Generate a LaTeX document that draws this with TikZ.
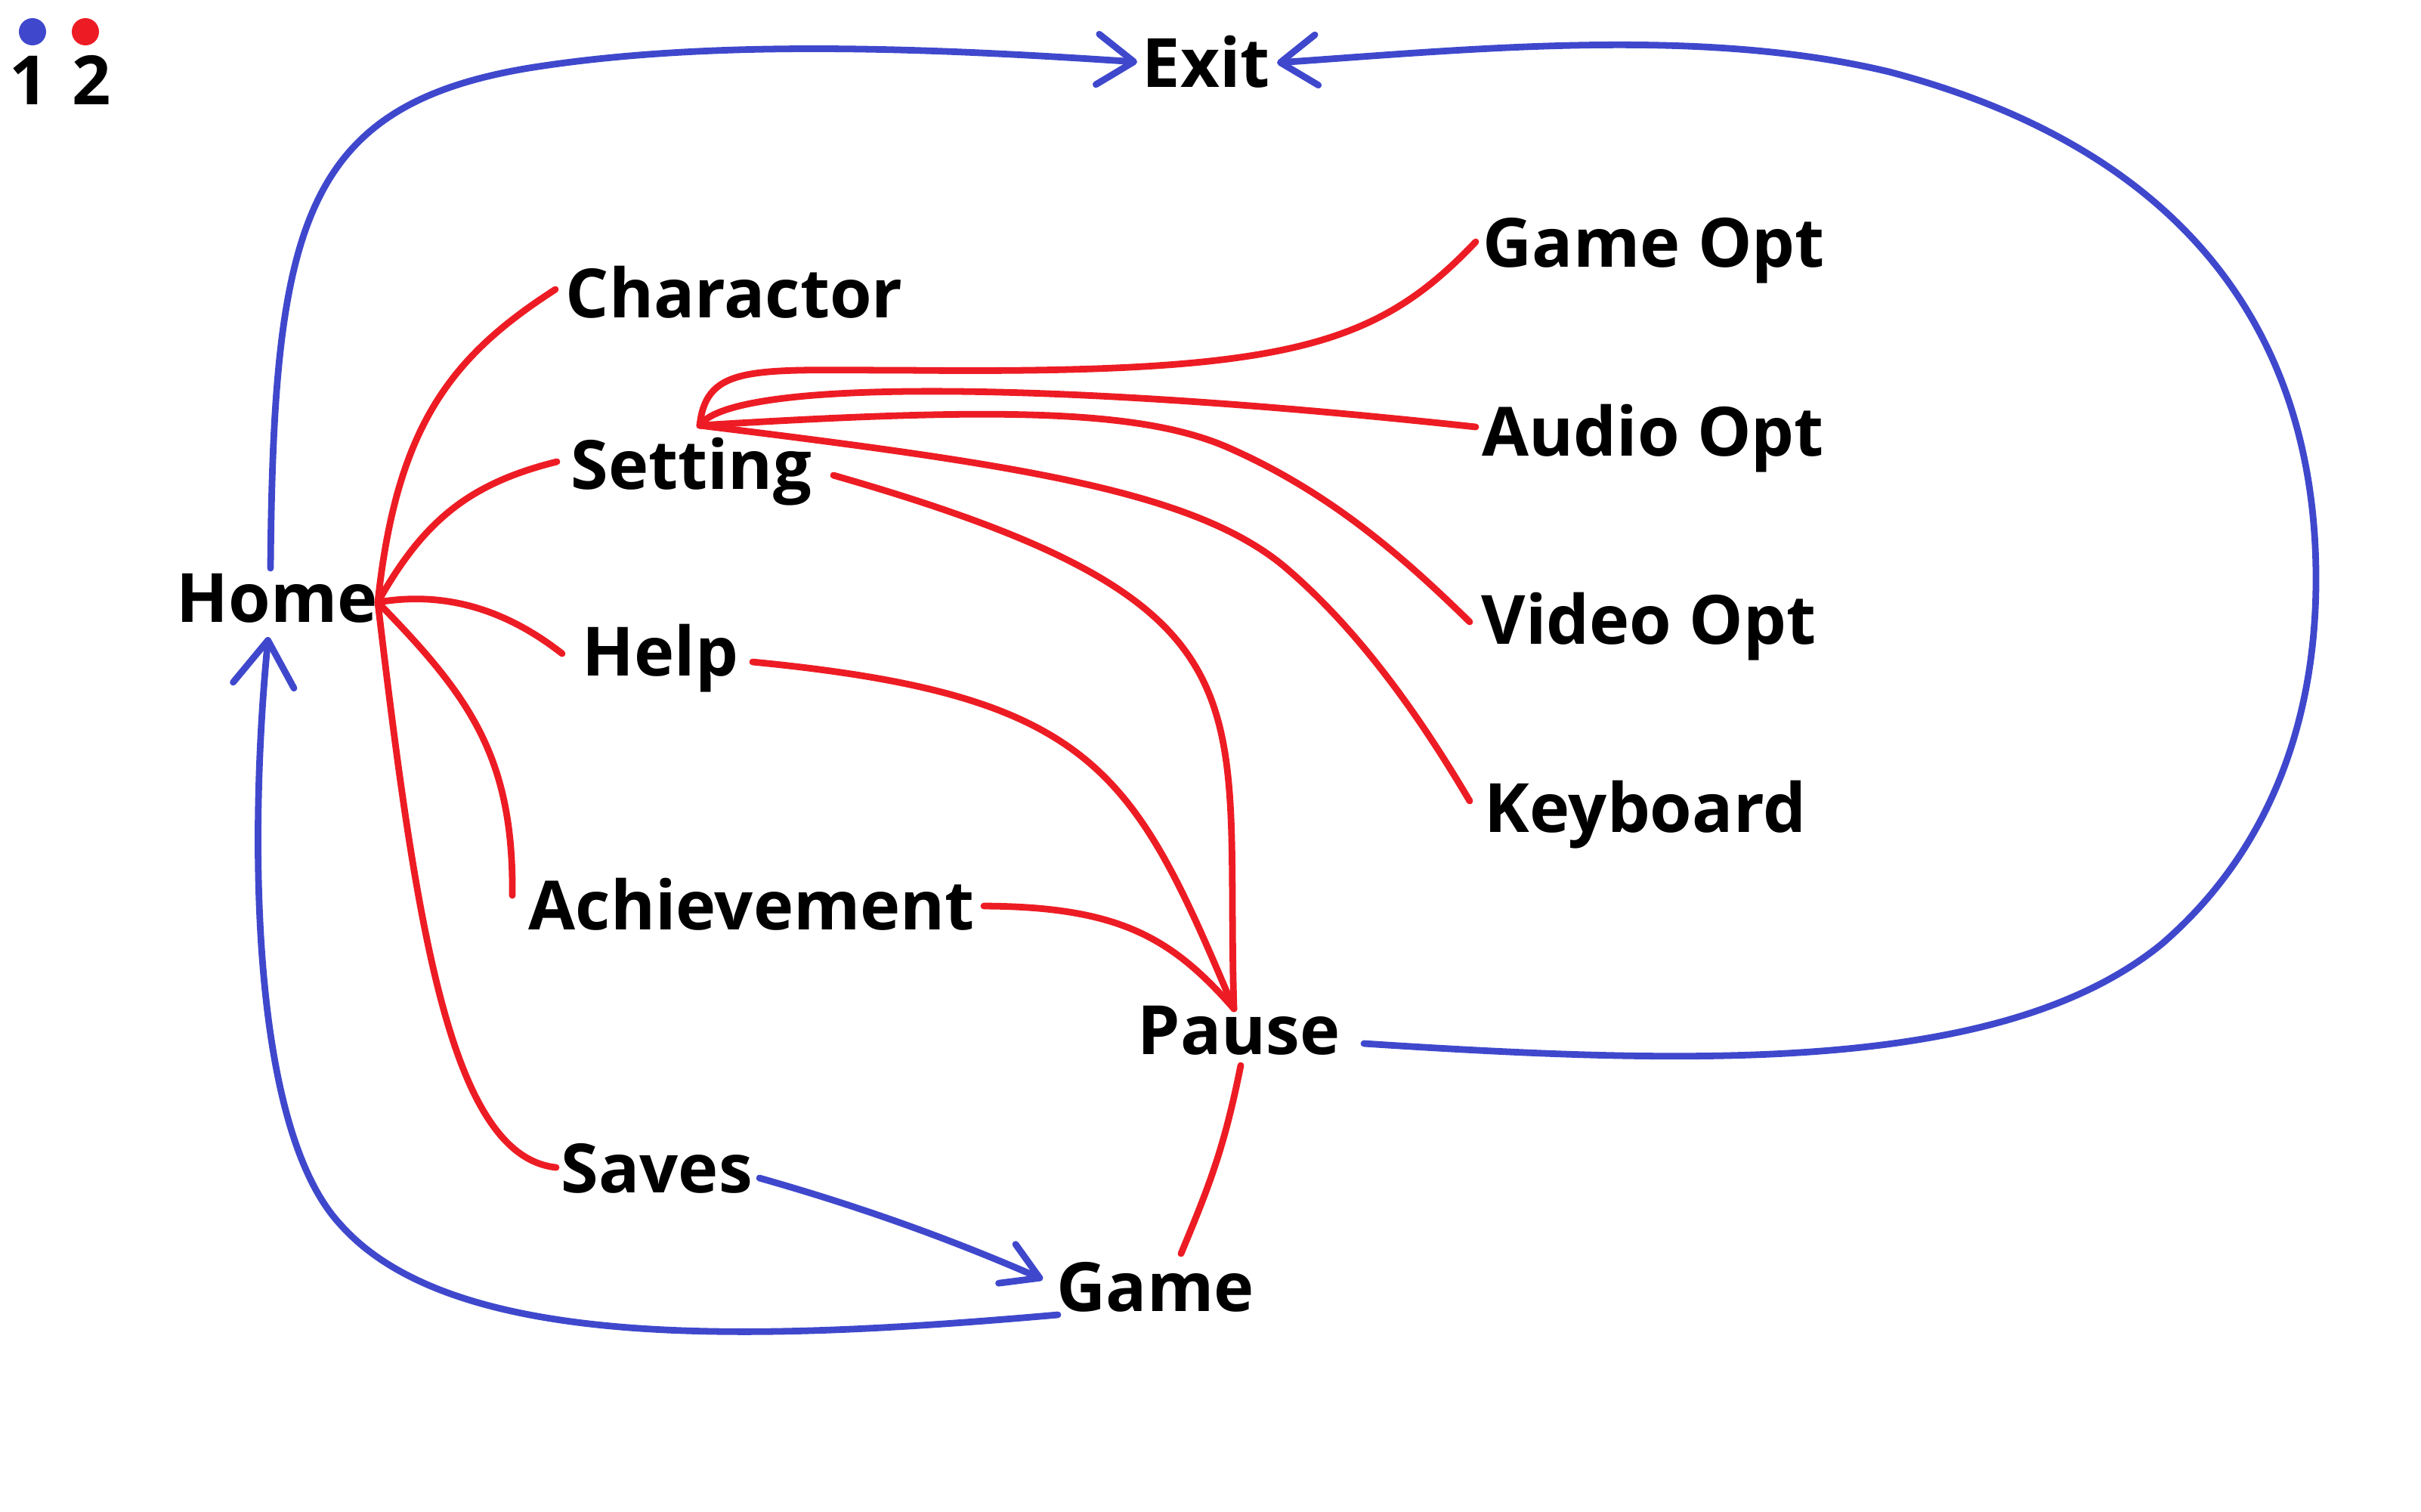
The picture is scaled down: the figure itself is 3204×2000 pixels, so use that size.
\documentclass[tikz,border=0pt]{standalone}
\usepackage{fontspec}
\setmainfont{Open Sans}
\usetikzlibrary{arrows.meta}
\definecolor{pblue}{RGB}{63,72,204}
\definecolor{pred}{RGB}{237,28,36}
\newcommand{\lblfont}{\fontsize{25.6}{30}\selectfont\bfseries}
\tikzset{
  lbl/.style={font=\lblfont, inner sep=0pt, anchor=base west, text=black},
  bluel/.style={draw=pblue, line width=2.5pt, line cap=round, line join=round},
  redl/.style={draw=pred, line width=2.5pt, line cap=round, line join=round},
  barb/.style={-{Straight Barb[length=13.7pt,width=19pt,round]}},
  gbarb/.style={-{Straight Barb[length=13.4pt,width=16pt,round]}},
  hbarb/.style={-{Straight Barb[length=17pt,width=23pt,round]}}
}
\begin{document}
\begin{tikzpicture}[x=0.1mm,y=-0.1mm]
\fill[white] (0,0) rectangle (3204,2000);
\useasboundingbox (0,0) rectangle (3204,2000);

% legend
\fill[pblue] (43,42) circle (18);
\fill[pred] (113,42) circle (18);
\node[lbl, anchor=base] (l1) at (38,138) {1};
\node[lbl, anchor=base] (l2) at (121,138) {2};

% labels
\node[lbl] (home) at (233,823) {Home};
\node[lbl] (exit) at (1511,115) {Exit};
\node[lbl] (char) at (748,420) {Charactor};
\node[lbl] (set) at (755,647) {Setting};
\node[lbl] (help) at (770,894) {Help};
\node[lbl] (ach) at (699,1230) {Achievement};
\node[lbl] (saves) at (742,1578) {Saves};
\node[lbl] (pause) at (1505,1395) {Pause};
\node[lbl] (game) at (1398,1735) {Game};
\node[lbl] (gopt) at (1962,353) {Game Opt};
\node[lbl] (aopt) at (1961,603) {Audio Opt};
\node[lbl] (vopt) at (1960,852) {Video Opt};
\node[lbl] (kbd) at (1964,1101) {Keyboard};

% connection points
\coordinate (homeTop) at (358,752);
\coordinate (homeBot) at (355,843);
\coordinate (homeHub) at (500,797);
\coordinate (exitL) at (1505,82);
\coordinate (exitR) at (1690,83);
\coordinate (pauseR) at (1805,1381);
\coordinate (pauseHub) at (1633,1335);
\coordinate (pauseBot) at (1642,1410);
\coordinate (gameL) at (1400,1740);
\coordinate (gameTip) at (1380,1693);
\coordinate (gameTop) at (1563,1659);
\coordinate (savesR) at (1005,1559);
\coordinate (savesIn) at (736,1545);
\coordinate (charIn) at (735,383);
\coordinate (setIn) at (737,611);
\coordinate (setHub) at (926,563);
\coordinate (setOut) at (1103,629);
\coordinate (helpIn) at (744,865);
\coordinate (helpOut) at (996,876);
\coordinate (achIn) at (678,1185);
\coordinate (achOut) at (1302,1199);
\coordinate (goptIn) at (1953,320);
\coordinate (aoptIn) at (1953,565);
\coordinate (voptIn) at (1945,823);
\coordinate (kbdIn) at (1945,1060);

% blue connectors
\draw[bluel, barb] (homeTop) .. controls (362,300) and (400,140) .. (700,90)
  .. controls (950,50) and (1250,65) .. (exitL);
\draw[bluel, barb] (pauseR) .. controls (2250,1410) and (2650,1420) .. (2860,1250)
  .. controls (3000,1130) and (3065,960) .. (3065,766)
  .. controls (3065,450) and (2900,200) .. (2500,95)
  .. controls (2250,35) and (1950,65) .. (exitR);
\draw[bluel, hbarb] (gameL) .. controls (1000,1775) and (600,1790) .. (450,1620)
  .. controls (330,1490) and (330,1100) .. (homeBot);
\draw[bluel, gbarb] (savesR) .. controls (1150,1600) and (1270,1645) .. (gameTip);

% red connectors from Home
\draw[redl] (homeHub) .. controls (525,560) and (600,470) .. (charIn);
\draw[redl] (homeHub) .. controls (560,690) and (620,640) .. (setIn);
\draw[redl] (homeHub) .. controls (600,780) and (680,815) .. (helpIn);
\draw[redl] (homeHub) .. controls (620,920) and (680,1000) .. (achIn);
\draw[redl] (homeHub) .. controls (550,1220) and (595,1530) .. (savesIn);

% red connectors from Setting
\draw[redl] (setHub) .. controls (935,480) and (1000,490) .. (1200,490)
  .. controls (1700,495) and (1820,460) .. (goptIn);
\draw[redl] (setHub) .. controls (970,500) and (1400,505) .. (aoptIn);
\draw[redl] (setHub) .. controls (1300,540) and (1500,540) .. (1620,590)
  .. controls (1760,650) and (1860,740) .. (voptIn);
\draw[redl] (setHub) .. controls (1350,615) and (1580,650) .. (1700,750)
  .. controls (1800,835) and (1880,950) .. (kbdIn);

% red connectors to Pause
\draw[redl] (setOut) .. controls (1700,800) and (1620,920) .. (pauseHub);
\draw[redl] (helpOut) .. controls (1450,920) and (1500,1020) .. (pauseHub);
\draw[redl] (achOut) .. controls (1480,1200) and (1550,1240) .. (pauseHub);
\draw[redl] (pauseBot) .. controls (1620,1520) and (1600,1570) .. (gameTop);
\end{tikzpicture}
\end{document}
